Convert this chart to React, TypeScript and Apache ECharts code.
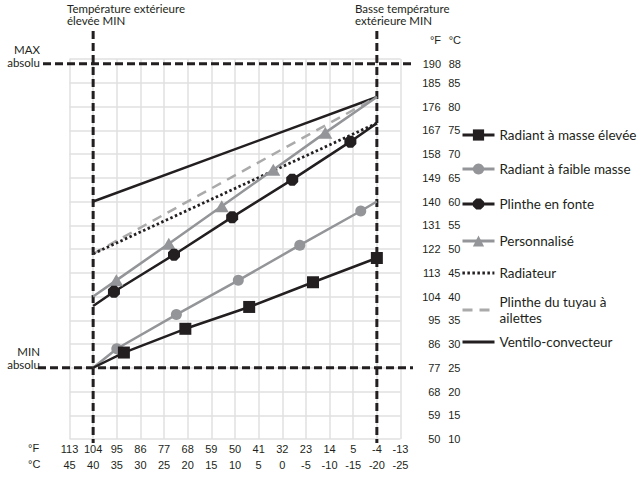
import React, { useEffect, useRef } from "react";
import * as echarts from "echarts";

// Axis tick labels
const xCelsius = [45, 40, 35, 30, 25, 20, 15, 10, 5, 0, -5, -10, -15, -20, -25];
const xFahrenheit = [113, 104, 95, 86, 77, 68, 59, 50, 41, 32, 23, 14, 5, -4, -13];
const yCelsius = [10, 15, 20, 25, 30, 35, 40, 45, 50, 55, 60, 65, 70, 75, 80, 85];
const yFahrenheit = [50, 59, 68, 77, 86, 95, 104, 113, 122, 131, 140, 149, 158, 167, 176, 185];

// Design limits
const outdoorHighMinC = 40;
const outdoorLowMinC = -20;
const absMaxY = 89; // drawn position of MAX absolu line
const absMaxLabelF = 190;
const absMaxLabelC = 88;
const absMinC = 25;

// Series (outdoor °C -> water °C)
const highMassX = [40, 33.5, 20.5, 7, -6.5, -20];
const highMassY = [25, 28.2, 33.2, 37.8, 43.0, 48.1];
const lowMassX = [40, 35, 22.4, 9.3, -3.7, -16.6, -20];
const lowMassY = [25, 29, 36.2, 43.4, 50.8, 58, 60];
const castIronX = [40, 35.6, 22.9, 10.6, -2.1, -14.4, -20];
const castIronY = [38, 41, 48.8, 56.7, 64.6, 72.6, 76.5];
const customX = [40, 35.1, 24, 12.8, 1.9, -9.1, -20];
const customY = [40, 43.4, 51.1, 59, 66.7, 74.5, 82];
const radiatorX = [40, -20];
const radiatorY = [49, 76.5];
const finTubeX = [40, -20];
const finTubeY = [49, 82];
const fanCoilX = [40, -20];
const fanCoilY = [60, 82];

const names = [
  "Radiant à masse élevée",
  "Radiant à faible masse",
  "Plinthe en fonte",
  "Personnalisé",
  "Radiateur",
  "Plinthe du tuyau à\nailettes",
  "Ventilo-convecteur",
];

const BLACK = "#231f20";
const GRAY = "#939598";
const OCTAGON = "path://M30,0 L70,0 L100,30 L100,70 L70,100 L30,100 L0,70 L0,30 Z";

function pts(xs: number[], ys: number[], unmarked: number[]) {
  return xs.map((x, i) =>
    unmarked.includes(i) ? { value: [x, ys[i]], symbol: "none" } : { value: [x, ys[i]] }
  );
}

export default function App() {
  const ref = useRef<HTMLDivElement>(null);
  useEffect(() => {
    if (!ref.current) return;
    const chart = echarts.init(ref.current, undefined, { renderer: "svg" });
    const legendCenters = [135, 169, 204, 241, 273, 310, 342];
    const legends = names.map((n, i) => ({
      data: [n],
      left: 461,
      top: legendCenters[i] - (i === 5 ? 16 : 8),
      itemWidth: 32,
      itemHeight: 14,
      padding: 0,
      selectedMode: false,
      lineStyle: { width: i === 4 ? 2.8 : 3 },
      itemStyle: i >= 4 ? { opacity: 0 } : {},
      textStyle: { fontFamily: "Lato", fontSize: 13.5, lineHeight: 16, color: BLACK },
    }));
    const line = (w: number, color: string, type: any = "solid") => ({ width: w, color, type });
    chart.setOption({
      animation: false,
      grid: { left: 69.5, right: 242.5, top: 59, bottom: 39 },
      legend: legends,
      xAxis: {
        type: "value",
        inverse: true,
        min: -25,
        max: 45,
        interval: 5,
        axisLine: { show: false },
        axisTick: { show: false },
        splitLine: { show: true, lineStyle: { color: "#e0e0e0", width: 1.5 } },
        axisLabel: {
          margin: 2,
          showMinLabel: true,
          showMaxLabel: true,
          formatter: (v: number) => {
            const i = xCelsius.indexOf(v);
            if (i < 0) return "";
            return `{f|${xFahrenheit[i]}}\n{c|${xCelsius[i]}}`;
          },
          rich: {
            f: { fontFamily: "Liberation Sans", fontSize: 11, lineHeight: 16, color: BLACK },
            c: { fontFamily: "Liberation Sans", fontSize: 11, lineHeight: 16, color: BLACK },
          },
        },
      },
      yAxis: {
        type: "value",
        position: "right",
        min: 10,
        max: 90,
        interval: 5,
        axisLine: { show: false },
        axisTick: { show: false },
        splitLine: { show: true, lineStyle: { color: "#e0e0e0", width: 1.5 } },
        axisLabel: {
          margin: 16,
          formatter: (v: number) => {
            const i = yCelsius.indexOf(v);
            if (i < 0) return "";
            return `{f|${yFahrenheit[i]}}{c|${yCelsius[i]}}`;
          },
          rich: {
            f: { fontFamily: "Liberation Sans", fontSize: 11, width: 24, align: "right", color: BLACK },
            c: { fontFamily: "Liberation Sans", fontSize: 11, width: 20, align: "right", color: BLACK },
          },
        },
      },
      series: [
        {
          name: names[6], type: "line", data: pts(fanCoilX, fanCoilY, [0, 1]),
          symbol: "none", lineStyle: line(2.5, BLACK), itemStyle: { color: BLACK },
        },
        {
          name: names[5], type: "line", data: pts(finTubeX, finTubeY, [0, 1]),
          symbol: "none", lineStyle: line(2.5, "#aaaaaa", [10, 7]), itemStyle: { color: "#aaaaaa" },
        },
        {
          name: names[4], type: "line", data: pts(radiatorX, radiatorY, [0, 1]),
          symbol: "none", lineStyle: line(2.8, BLACK, [2.5, 2.5]), itemStyle: { color: BLACK },
        },
        {
          name: names[3], type: "line", data: pts(customX, customY, [0, 6]),
          symbol: "triangle", symbolSize: [14, 12], lineStyle: line(2.5, GRAY), itemStyle: { color: GRAY },
        },
        {
          name: names[2], type: "line", data: pts(castIronX, castIronY, [0, 6]),
          symbol: OCTAGON, symbolSize: 12, lineStyle: line(2.5, BLACK), itemStyle: { color: BLACK },
        },
        {
          name: names[1], type: "line", data: pts(lowMassX, lowMassY, [0, 6]),
          symbol: "circle", symbolSize: 11, lineStyle: line(2.5, GRAY), itemStyle: { color: GRAY },
        },
        {
          name: names[0], type: "line", data: pts(highMassX, highMassY, [0]),
          symbol: "rect", symbolSize: 12, lineStyle: line(2.5, BLACK), itemStyle: { color: BLACK },
        },
      ],
    });

    const xHigh = chart.convertToPixel({ xAxisIndex: 0 }, outdoorHighMinC) as number;
    const xLow = chart.convertToPixel({ xAxisIndex: 0 }, outdoorLowMinC) as number;
    const yMax = chart.convertToPixel({ yAxisIndex: 0 }, absMaxY) as number;
    const yMin = chart.convertToPixel({ yAxisIndex: 0 }, absMinC) as number;
    const dash = { stroke: BLACK, lineWidth: 3, lineDash: [8, 4] };
    const font = "Lato";
    const txt = (x: number, y: number, text: string, size: number, align: string = "left") => ({
      type: "text",
      x,
      y,
      style: { text, fill: BLACK, font: `${size}px ${font}`, align, verticalAlign: "middle" },
    });
    const richNum = {
      f: { fontFamily: "Liberation Sans", fontSize: 11, width: 24, align: "right", fill: BLACK },
      c: { fontFamily: "Liberation Sans", fontSize: 11, width: 20, align: "right", fill: BLACK },
    };
    chart.setOption({
      graphic: [
        { type: "line", shape: { x1: xHigh, y1: 31, x2: xHigh, y2: 443 }, style: dash },
        { type: "line", shape: { x1: xLow, y1: 31, x2: xLow, y2: 443 }, style: dash },
        { type: "line", shape: { x1: 43, y1: yMax, x2: 413, y2: yMax }, style: dash },
        { type: "line", shape: { x1: 38, y1: yMin, x2: 413, y2: yMin }, style: dash },
        txt(67, 8, "Température extérieure", 11.5),
        txt(67, 20.5, "élevée MIN", 11.5),
        txt(355, 8, "Basse température", 11.5),
        txt(355, 20.5, "extérieure MIN", 11.5),
        txt(40, yMax - 14, "MAX", 11.5, "right"),
        txt(40, yMax - 1, "absolu", 11.5, "right"),
        txt(40, yMin - 16, "MIN", 11.5, "right"),
        txt(40, yMin - 3, "absolu", 11.5, "right"),
        {
          type: "text", x: 417, y: 40,
          style: { text: "{f|°F}{c|°C}", verticalAlign: "middle", rich: richNum },
        },
        {
          type: "text", x: 417, y: yMax,
          style: { text: `{f|${absMaxLabelF}}{c|${absMaxLabelC}}`, verticalAlign: "middle", rich: richNum },
        },
        {
          type: "text", x: 28, y: 440,
          style: { text: "°F\n°C", fill: BLACK, font: "11px Liberation Sans", lineHeight: 16, verticalAlign: "top" },
        },
      ],
    });
    return () => chart.dispose();
  }, []);
  return (
    <div
      ref={ref}
      style={{ position: "absolute", left: 0, top: 0, width: 643, height: 478, background: "#fff" }}
    />
  );
}
